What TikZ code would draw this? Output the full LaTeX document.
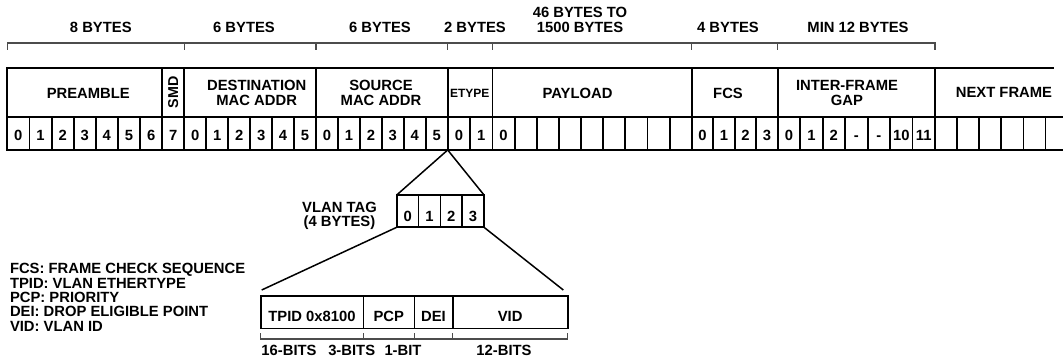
\documentclass[tikz,border=0pt]{standalone}
\usepackage{fontspec}
\setmainfont{Liberation Sans}
\begin{document}
\begin{tikzpicture}[x=1pt,y=-1pt,
  every node/.style={font=\fontsize{14.8}{14.4}\selectfont\bfseries, inner sep=0pt, outer sep=0pt},
  fld/.style={draw, line width=1.8pt, anchor=north west, minimum height=49pt},
  cell/.style={draw, line width=1.8pt, anchor=north west, minimum height=33pt, text height=13.6pt, text depth=0pt},
  brk/.style={draw=black!70, line width=1.4pt},
  brkb/.style={draw=black!70, line width=1.2pt},
  tri/.style={draw, line width=1.5pt},
  tagcell/.style={draw, line width=1.6pt, anchor=north west, minimum width=21.83pt, minimum height=32.3pt, text height=20.6pt, text depth=0pt},
  vbox/.style={draw, line width=1.6pt, anchor=north west, minimum height=32.3pt, text height=17.8pt, text depth=0pt},
]
\useasboundingbox (0,0) rectangle (1063,358);
\clip (0,0) rectangle (1063,358);

% top row fields
\node[fld, minimum width=154.9pt] (pre) at (7.3,68) {};
\node[fld, minimum width=22.1pt] (smd) at (162.2,68) {};
\node[fld, minimum width=131.7pt] (dst) at (184.3,68) {};
\node[fld, minimum width=131.7pt] (src) at (316,68) {};
\node[fld, minimum width=44.8pt] (ety) at (447.7,68) {};
\node[fld, minimum width=199.2pt] (pay) at (492.5,68) {};
\node[fld, minimum width=86pt] (fcs) at (691.7,68) {};
\node[fld, minimum width=157.3pt] (ifg) at (777.7,68) {};
\coordinate (nfend) at (1054,68);
\draw[line width=1.8pt] (ifg.north east) -- (nfend);

% field labels
\node (lpre) at (88.3,93) {PREAMBLE};
\node[rotate=90, font=\fontsize{14.3}{14}\selectfont\bfseries] (lsmd) at (smd.center) {SMD};
\node[align=center] (ldst) at (256.7,93) {DESTINATION\\MAC ADDR};
\node[align=center] (lsrc) at (381,93) {SOURCE\\MAC ADDR};
\node[font=\fontsize{12}{12}\selectfont\bfseries] (lety) at (469.8,93.3) {ETYPE};
\node (lpay) at (577.5,93) {PAYLOAD};
\node (lfcs) at (728,93) {FCS};
\node[align=center] (lifg) at (847,93) {INTER-FRAME\\GAP};
\node (lnxt) at (1004,92.5) {NEXT FRAME};

% byte cells
\foreach \xa/\xb/\t [count=\i] in {
  7.3/29.4/0, 29.4/51.6/1, 51.6/73.7/2, 73.7/95.8/3, 95.8/117.9/4, 117.9/140.1/5, 140.1/162.2/6, 162.2/184.3/7,
  184.3/206.3/0, 206.3/228.2/1, 228.2/250.2/2, 250.2/272.1/3, 272.1/294.1/4, 294.1/316/5,
  316/338/0, 338/359.9/1, 359.9/381.9/2, 381.9/403.8/3, 403.8/425.8/4, 425.8/447.7/5,
  447.7/470.1/0, 470.1/492.5/1,
  492.5/514.6/0, 514.6/536.8/{}, 536.8/558.9/{}, 558.9/581/{}, 581/603.2/{}, 603.2/625.3/{}, 625.3/647.4/{}, 647.4/669.6/{}, 669.6/691.7/{},
  691.7/713.2/0, 713.2/734.7/1, 734.7/756.2/2, 756.2/777.7/3,
  777.7/800.2/0, 800.2/822.6/1, 822.6/845.1/2, 845.1/867.6/-, 867.6/890/-, 890/912.5/10, 912.5/935/11,
  935/957.1/{}, 957.1/979.2/{}, 979.2/1001.3/{}, 1001.3/1023.4/{}, 1023.4/1045.5/{}, 1045.5/1067.6/{}}
  \node[cell, minimum width={(\xb-\xa)*1pt}] (c\i) at (\xa,117) {\t};

% top bracket
\draw[brk] ([yshift=18pt]pre.north west) -- ([yshift=25pt]pre.north west) -- ([yshift=25pt]ifg.north east) -- ([yshift=18pt]ifg.north east);
\foreach \n in {dst,src,ety,pay,fcs,ifg}
  \draw[brk] ([yshift=18pt]\n.north west) -- ([yshift=25pt]\n.north west);

% top labels
\node (t8) at (100.8,27.8) {8 BYTES};
\node (t6a) at (244,27.8) {6 BYTES};
\node (t6b) at (380,27.8) {6 BYTES};
\node (t2) at (475,27.8) {2 BYTES};
\node[align=center] (t46) at (580,19.8) {46 BYTES TO\\1500 BYTES};
\node (t4) at (728,27.8) {4 BYTES};
\node (t12) at (858,27.8) {MIN 12 BYTES};

% VLAN tag
\foreach \t [count=\i] in {0,1,2,3}
  \node[tagcell] (v\i) at ({396.7+(\i-1)*21.83},195) {\t};
\draw[tri] (c21.south west) -- (v1.north west);
\draw[tri] (c21.south west) -- (v4.north east);
\node[align=center, anchor=north] (vlab) at (339.5,201.7) {VLAN TAG\\(4 BYTES)};

% VLAN tag detail
\node[vbox, minimum width=102.6pt] (tpid) at (260.7,296) {TPID 0x8100};
\node[vbox, minimum width=51pt] (pcp) at (363.3,296) {PCP};
\node[vbox, minimum width=38.4pt] (dei) at (414.3,296) {DEI};
\node[vbox, minimum width=115pt] (vid) at (452.7,296) {VID};
\coordinate (tl) at (261.7,290);
\coordinate (tr) at (563.3,290);
\draw[tri] (v1.south west) -- (tl);
\draw[tri] (v4.south east) -- (tr);

% bottom bracket
\draw[brkb] ([yshift=-4.7pt]tpid.south west) -- ([yshift=-10.7pt]tpid.south west) -- ([yshift=-10.7pt]vid.south east) -- ([yshift=-4.7pt]vid.south east);
\foreach \n in {pcp,dei,vid}
  \draw[brkb] ([yshift=-4.7pt]\n.south west) -- ([yshift=-10.7pt]\n.south west);
\node (b16) at (289,350) {16-BITS};
\node (b3) at (351.7,350) {3-BITS};
\node (b1) at (403,350) {1-BIT};
\node (b12) at (504,350) {12-BITS};

% legend
\node[align=left, anchor=north west] (legend) at (10,263.3) {FCS: FRAME CHECK SEQUENCE\\TPID: VLAN ETHERTYPE\\PCP: PRIORITY\\DEI: DROP ELIGIBLE POINT\\VID: VLAN ID};
\end{tikzpicture}
\end{document}
